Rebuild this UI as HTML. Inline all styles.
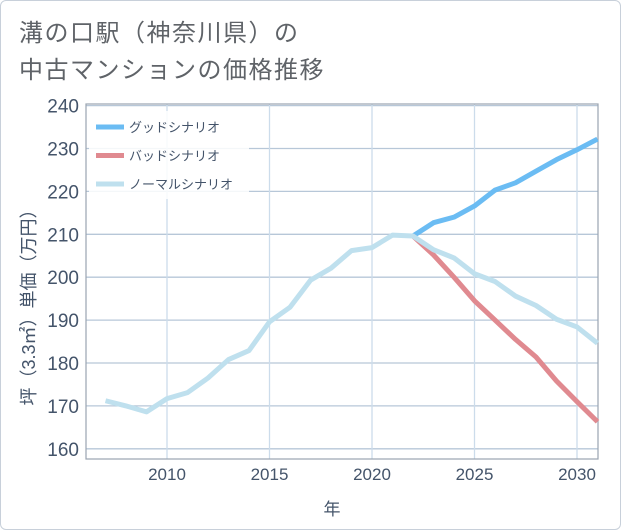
<!DOCTYPE html>
<html><head><meta charset="utf-8">
<style>
body{margin:0;background:#fff;}
#card{position:absolute;left:0;top:0;width:619px;height:528px;border:1px solid #c8d0da;border-radius:6px;background:#fff;overflow:hidden;}
#title{position:absolute;left:18px;top:14px;font:24px "Liberation Sans","Noto Sans CJK JP",sans-serif;letter-spacing:1.5px;color:#5f6368;line-height:37px;}
svg text{font-family:"Liberation Sans","Noto Sans CJK JP",sans-serif;}
</style></head><body>
<div id="card">
<div id="title">溝の口駅（神奈川県）の<br>中古マンションの価格推移</div>
<svg id="chart" width="621" height="530" style="position:absolute;left:0;top:0"></svg>
</div>
<script>
const years=[2007,2008,2009,2010,2011,2012,2013,2014,2015,2016,2017,2018,2019,2020,2021,2022,2023,2024,2025,2026,2027,2028,2029,2030,2031];
const normalValues=[171.2,170.0,168.6,171.7,173.1,176.5,180.8,182.9,189.6,193.0,199.3,202.1,206.2,206.9,209.8,209.6,206.4,204.5,200.8,199.0,195.6,193.4,190.2,188.4,184.6];
const scenarioYears=[2022,2023,2024,2025,2026,2027,2028,2029,2030,2031];
const goodValues=[209.6,212.7,214.0,216.6,220.3,222.0,224.7,227.4,229.7,232.2];
const badValues=[209.6,205.2,200.0,194.5,190.0,185.5,181.4,175.8,171.0,166.3];
const yTicks=[160,170,180,190,200,210,220,230,240];
const xTicks=[2010,2015,2020,2025,2030];
const legendLabels=["グッドシナリオ","バッドシナリオ","ノーマルシナリオ"];
const legendColors=["#6bbcf3","#e08a90","#bfe0ee"];

const NS="http://www.w3.org/2000/svg";
const svg=document.getElementById('chart');
const L=85,R=597,T=103,B=458;
const X=v=>166+(v-2010)*20.5;
const Y=v=>233.3-(v-210)*4.29;
function mk(tag,attrs,parent){const e=document.createElementNS(NS,tag);for(const k in attrs)e.setAttribute(k,attrs[k]);(parent||svg).appendChild(e);return e;}

for(const t of yTicks){
  const g=mk('line',{x1:L,x2:R,y1:Y(t),y2:Y(t),stroke:'#b7c7d8','stroke-width':1.3});
  
  
  const tx=mk('text',{x:78,y:Y(t)+7,'text-anchor':'end','font-size':19,fill:'#44546a'});
  tx.textContent=t;
  
  
}
for(const t of xTicks){
  const g=mk('line',{x1:X(t),x2:X(t),y1:T,y2:B,stroke:'#ccdceb','stroke-width':1.3});
  
  
  const tx=mk('text',{x:X(t),y:479,'text-anchor':'middle','font-size':17,fill:'#44546a'});
  tx.textContent=t;
  
  
}
const frame=mk('rect',{x:L,y:T,width:R-L,height:B-T,fill:'none',stroke:'#9aa4b0','stroke-width':1.2});



function line(xs,vals,color,name){
  const p=mk('polyline',{points:xs.map((x,i)=>X(x)+','+Y(vals[i])).join(' '),fill:'none',stroke:color,'stroke-width':5,'stroke-linejoin':'round'});
  
  
}
line(scenarioYears,goodValues,legendColors[0],'good-scenario-line');
line(scenarioYears,badValues,legendColors[1],'bad-scenario-line');
line(years,normalValues,legendColors[2],'normal-scenario-line');

const lb=mk('rect',{x:88,y:110,width:160,height:88,fill:'#fff','fill-opacity':0.85});


legendLabels.forEach((lab,i)=>{
  const y=126+i*28.5;
  const s=mk('line',{x1:95,x2:123,y1:y,y2:y,stroke:legendColors[i],'stroke-width':5});
  
  
  const t=mk('text',{x:128,y:y+5,'font-size':13,fill:'#44546a'});
  t.textContent=lab;
  
  
});
const yt=mk('text',{x:0,y:0,'font-size':18,fill:'#44546a','text-anchor':'middle',transform:'translate(34,302) rotate(-90)'});
yt.textContent='坪（3.3㎡）単価（万円）';


const xt=mk('text',{x:331,y:514,'font-size':17,fill:'#44546a','text-anchor':'middle'});
xt.textContent='年';


</script>
</body></html>
